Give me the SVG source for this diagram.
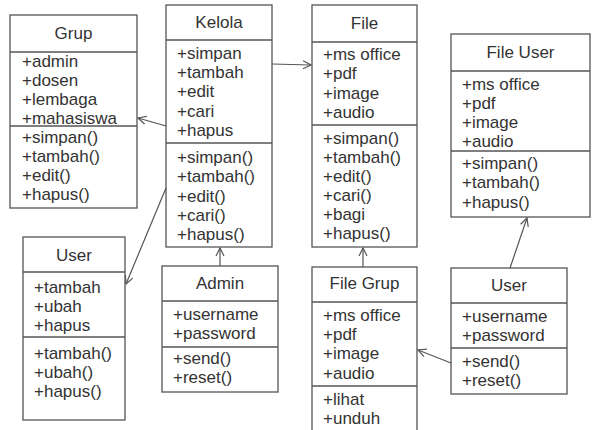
<svg xmlns="http://www.w3.org/2000/svg" width="593" height="430" viewBox="0 0 593 430">
  <defs>
    <marker id="open" markerUnits="userSpaceOnUse" markerWidth="10" markerHeight="10" refX="9" refY="5" orient="auto">
      <path d="M1,1 L9,5 L1,9" fill="none" stroke="#555" stroke-width="1.2"/>
    </marker>
    <style>
      .box { fill: #fff; stroke: #555; stroke-width: 1.3; }
      .div { stroke: #555; stroke-width: 1.3; }
      text { font-family: "Liberation Sans", Arial, sans-serif; font-size: 17px; fill: #333; }
      .title { text-anchor: middle; }
      .link { stroke: #555; stroke-width: 1.2; fill: none; marker-end: url(#open); }
    </style>
  </defs>
  <rect width="593" height="430" fill="#fff"/>

  <g id="grup">
    <rect class="box" x="10" y="15" width="127" height="193"/>
    <line class="div" x1="10" y1="52" x2="137" y2="52"/>
    <line class="div" x1="10" y1="126" x2="137" y2="126"/>
    <text class="title" x="73.5" y="39">Grup</text>
    <text x="22" y="67">+admin</text>
    <text x="22" y="86">+dosen</text>
    <text x="22" y="105">+lembaga</text>
    <text x="22" y="124">+mahasiswa</text>
    <text x="22" y="143">+simpan()</text>
    <text x="22" y="162">+tambah()</text>
    <text x="22" y="181">+edit()</text>
    <text x="22" y="200">+hapus()</text>
  </g>

  <g id="kelola">
    <rect class="box" x="166" y="5" width="106" height="242"/>
    <line class="div" x1="166" y1="40" x2="272" y2="40"/>
    <line class="div" x1="166" y1="143" x2="272" y2="143"/>
    <text class="title" x="219" y="28">Kelola</text>
    <text x="177" y="59">+simpan</text>
    <text x="177" y="78">+tambah</text>
    <text x="177" y="97">+edit</text>
    <text x="177" y="117">+cari</text>
    <text x="177" y="136">+hapus</text>
    <text x="177" y="163">+simpan()</text>
    <text x="177" y="182">+tambah()</text>
    <text x="177" y="202">+edit()</text>
    <text x="177" y="221">+cari()</text>
    <text x="177" y="240">+hapus()</text>
  </g>

  <g id="file">
    <rect class="box" x="312" y="5" width="105" height="242"/>
    <line class="div" x1="312" y1="42" x2="417" y2="42"/>
    <line class="div" x1="312" y1="125" x2="417" y2="125"/>
    <text class="title" x="364.5" y="29">File</text>
    <text x="323" y="60">+ms office</text>
    <text x="323" y="79">+pdf</text>
    <text x="323" y="99">+image</text>
    <text x="323" y="118">+audio</text>
    <text x="323" y="144">+simpan()</text>
    <text x="323" y="163">+tambah()</text>
    <text x="323" y="182">+edit()</text>
    <text x="323" y="201">+cari()</text>
    <text x="323" y="220">+bagi</text>
    <text x="323" y="239">+hapus()</text>
  </g>

  <g id="file-user">
    <rect class="box" x="451" y="34" width="139" height="183"/>
    <line class="div" x1="451" y1="71" x2="590" y2="71"/>
    <line class="div" x1="451" y1="151" x2="590" y2="151"/>
    <text class="title" x="520.5" y="58">File User</text>
    <text x="462" y="90">+ms office</text>
    <text x="462" y="109">+pdf</text>
    <text x="462" y="128">+image</text>
    <text x="462" y="147">+audio</text>
    <text x="462" y="169">+simpan()</text>
    <text x="462" y="188">+tambah()</text>
    <text x="462" y="208">+hapus()</text>
  </g>

  <g id="user-left">
    <rect class="box" x="23" y="237" width="102" height="183"/>
    <line class="div" x1="23" y1="272" x2="125" y2="272"/>
    <line class="div" x1="23" y1="337" x2="125" y2="337"/>
    <text class="title" x="74" y="261">User</text>
    <text x="34" y="293">+tambah</text>
    <text x="34" y="312">+ubah</text>
    <text x="34" y="331">+hapus</text>
    <text x="34" y="359">+tambah()</text>
    <text x="34" y="378">+ubah()</text>
    <text x="34" y="397">+hapus()</text>
  </g>

  <g id="admin">
    <rect class="box" x="162" y="266" width="116" height="126"/>
    <line class="div" x1="162" y1="301" x2="278" y2="301"/>
    <line class="div" x1="162" y1="347" x2="278" y2="347"/>
    <text class="title" x="220" y="289">Admin</text>
    <text x="173" y="320">+username</text>
    <text x="173" y="339">+password</text>
    <text x="173" y="364">+send()</text>
    <text x="173" y="383">+reset()</text>
  </g>

  <g id="file-grup">
    <rect class="box" x="312" y="267" width="105" height="170"/>
    <line class="div" x1="312" y1="302" x2="417" y2="302"/>
    <line class="div" x1="312" y1="386" x2="417" y2="386"/>
    <text class="title" x="364.5" y="289">File Grup</text>
    <text x="323" y="321">+ms office</text>
    <text x="323" y="340">+pdf</text>
    <text x="323" y="359">+image</text>
    <text x="323" y="379">+audio</text>
    <text x="323" y="405">+lihat</text>
    <text x="323" y="424">+unduh</text>
  </g>

  <g id="user-right">
    <rect class="box" x="451" y="268" width="116" height="126"/>
    <line class="div" x1="451" y1="303" x2="567" y2="303"/>
    <line class="div" x1="451" y1="348" x2="567" y2="348"/>
    <text class="title" x="509" y="291">User</text>
    <text x="462" y="322">+username</text>
    <text x="462" y="341">+password</text>
    <text x="462" y="367">+send()</text>
    <text x="462" y="386">+reset()</text>
  </g>

  <g id="connectors">
    <line class="link" x1="166" y1="126" x2="138" y2="118"/>
    <line class="link" x1="166" y1="188" x2="126" y2="284"/>
    <line class="link" x1="272" y1="64" x2="311" y2="65"/>
    <line class="link" x1="220" y1="266" x2="220" y2="248"/>
    <line class="link" x1="363" y1="267" x2="363" y2="248"/>
    <line class="link" x1="451" y1="363" x2="418" y2="350"/>
    <line class="link" x1="510" y1="268" x2="527" y2="218"/>
  </g>
</svg>
